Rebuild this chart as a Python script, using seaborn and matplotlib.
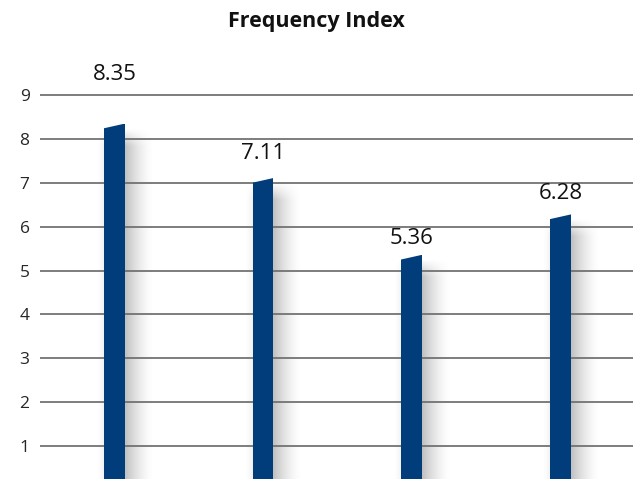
import numpy as np
import pandas as pd
import matplotlib
matplotlib.use("Agg")
import matplotlib.pyplot as plt
from matplotlib.patches import Polygon
import seaborn as sns

# Values shown above each bar
categories = ["Q1", "Q2", "Q3", "Q4"]
values = [8.35, 7.11, 5.36, 6.28]
y_ticks = [1, 2, 3, 4, 5, 6, 7, 8, 9]
title = "Frequency Index"

# label lift above each bar top, in points
label_lift = [35, 18, 11.5, 15]

sns.set_theme(style="white")
plt.rcParams["font.family"] = ["Open Sans", "DejaVu Sans"]

df = pd.DataFrame({"category": categories, "value": values})

fig = plt.figure(figsize=(6.33, 4.79), dpi=100)
W, H = 633, 479
ax_left = 40 / W
ax_bottom = (479 - 489.9) / H
ax_height = (489.9 - 60) / H
ax = fig.add_axes([ax_left, ax_bottom, 1.0 - ax_left + 0.003, ax_height])

bar_color = "#003D7A"
bar_w = 0.14
sns.barplot(data=df, x="category", y="value", color=bar_color, width=bar_w,
            saturation=1, ax=ax, zorder=3, edgecolor="none")

ax.set_ylim(0, 9.8)
ax.set_xlim(-0.5, 3.5)
ax.set_yticks(y_ticks)
ax.set_yticklabels([str(t) for t in y_ticks])
ax.tick_params(axis="y", length=0, pad=7.5, labelsize=12.5, labelcolor="#262626")
ax.tick_params(axis="x", length=0, labelbottom=False)
ax.set_xlabel("")
ax.set_ylabel("")
for s in ax.spines.values():
    s.set_visible(False)
ax.yaxis.grid(True, color="#5a5a5a", linewidth=1.1, zorder=0)
ax.set_axisbelow(True)

slant = 0.114  # drop of the left top corner, in data units
for patch in ax.patches:
    x0 = patch.get_x()
    w = patch.get_width()
    h = patch.get_height()
    clip = Polygon([(x0 - 0.01, -1), (x0 - 0.01, h - slant), (x0 + w, h),
                    (x0 + w + 0.01, h), (x0 + w + 0.01, -1)],
                   closed=True, transform=ax.transData)
    patch.set_clip_path(clip)

    # soft drop shadow to the right of the bar
    n = 64
    sw = 0.19
    xs = np.linspace(0, 1, n)
    alpha_x = 0.45 * (1 - xs) ** 1.6
    ys = np.linspace(0, 1, 200)
    top_zone = np.clip(((h - 0.1) - ys * (h - 0.1)) / 0.4, 0, 1)
    img = np.zeros((200, n, 4))
    img[..., :3] = 0.45
    img[..., 3] = np.outer(top_zone, alpha_x)
    ax.imshow(img, extent=[x0 + w, x0 + w + sw, 0, h - 0.1], origin="lower",
              aspect="auto", zorder=1, interpolation="bilinear")
    # faint shadow on the left edge
    nl = 16
    alpha_l = 0.12 * np.linspace(0, 1, nl) ** 1.5
    imgl = np.zeros((200, nl, 4))
    imgl[..., :3] = 0.5
    imgl[..., 3] = np.outer(top_zone, alpha_l)
    ax.imshow(imgl, extent=[x0 - 0.05, x0, 0, h - 0.1], origin="lower",
              aspect="auto", zorder=1, interpolation="bilinear")

ax.set_xlim(-0.5, 3.5)
ax.set_ylim(0, 9.8)

for i, (patch, v) in enumerate(zip(ax.patches, values)):
    cx = patch.get_x() + patch.get_width() / 2
    ax.annotate(f"{v:.2f}", xy=(cx, v), xytext=(0, label_lift[i]),
                textcoords="offset points", ha="center", va="center",
                fontsize=16, color="#111111", zorder=5)

fig.text(0.5, 1 - 22 / H, title, ha="center", va="center", fontsize=15.5,
         fontweight="bold", color="#111111")

fig.savefig("out.png", dpi=100, facecolor="white")
